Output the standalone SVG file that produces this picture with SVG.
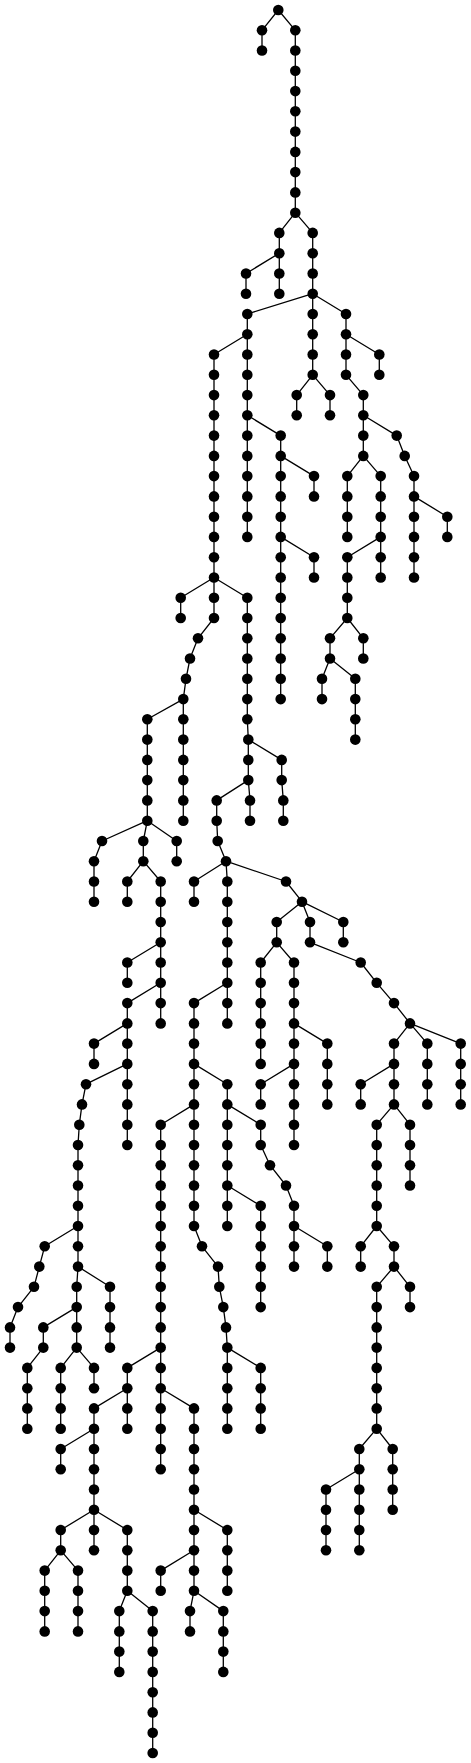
<svg xmlns="http://www.w3.org/2000/svg" width="471" height="1763" viewBox="0 0 471 1763">
<style>
.e path{fill:none;stroke:#000;stroke-width:1.3;stroke-linejoin:round}
.nodes circle{fill:#000}
</style>
<rect width="471" height="1763" fill="#fff"/>
<g id="connectors" class="e">
<path d="M278.3,10 L262,30.3 L262,50.5"/>
<path d="M278.3,10 L295.3,30.3 L295.3,212.7 L279.3,232.9 L279.3,293.7"/>
<path d="M279.3,253.2 L246,273.5 L246,293.7"/>
<path d="M295.3,212.7 L312.7,232.9 L312.7,374.8 L296.7,395.1 L296.7,415.3"/>
<path d="M312.7,374.8 L330,395.1 L330,415.3"/>
<path d="M312.7,293.7 L247.3,314 L247.3,334.3 L214,354.5 L214,577.5 L180.7,597.7 L180.7,618"/>
<path d="M247.3,334.3 L247.3,536.9"/>
<path d="M247.3,415.3 L280.7,435.6 L280.7,699.1"/>
<path d="M280.7,455.9 L314,476.1 L314,496.4"/>
<path d="M280.7,536.9 L314,557.2 L314,577.5"/>
<path d="M312.7,293.7 L346,314 L346,374.8 L363.3,395.1 L363.3,455.9 L347.3,476.1 L347.3,536.9"/>
<path d="M346,334.3 L379.3,354.5 L379.3,374.8"/>
<path d="M363.3,455.9 L380.7,476.1 L380.7,577.5"/>
<path d="M380.7,536.9 L347.3,557.2 L347.3,618 L330,638.3 L330,658.5 L322,678.8 L322,699.1"/>
<path d="M330,658.5 L355.3,678.8 L355.3,739.6"/>
<path d="M347.3,618 L363.3,638.3 L363.3,658.5"/>
<path d="M363.3,415.3 L396.7,435.6 L404.7,455.9 L414,476.1 L414,577.5"/>
<path d="M414,496.4 L447.3,516.7 L447.3,536.9"/>
<path d="M214,577.5 L214,618 L198,638.3 L190,658.5 L186,678.8 L183.3,699.1 L183.3,820.7"/>
<path d="M214,577.5 L247.3,597.7 L247.3,719.3 L248.3,739.6 L248.3,780.1 L250,800.4 L250,820.7"/>
<path d="M248.3,780.1 L216.7,800.4 L216.7,820.7 L217.7,841 L226,861.2 L227.3,881.5 L227.3,1023.4"/>
<path d="M248.3,739.6 L281.7,759.9 L281.7,780.1 L283.3,800.4 L283.3,820.7"/>
<path d="M183.3,699.1 L147.3,719.3 L147.3,820.7 L102,841 L94,861.2 L94,901.7"/>
<path d="M147.3,820.7 L143.3,841 L143.3,861.2 L127.3,881.5 L127.3,901.7"/>
<path d="M147.3,820.7 L176.7,841 L176.7,861.2"/>
<path d="M143.3,861.2 L160.7,881.5 L160.7,1023.4"/>
<path d="M160.7,942.3 L127.3,962.5 L127.3,982.8"/>
<path d="M160.7,982.8 L127.3,1003.1 L127.3,1145"/>
<path d="M127.3,1023.4 L94,1043.6 L94,1063.9"/>
<path d="M127.3,1063.9 L86,1084.2 L82,1104.4 L79.3,1124.7 L78,1145 L78,1266.6 L76.7,1286.8 L76.7,1347.6 L60.7,1367.9 L60.7,1428.7"/>
<path d="M78,1226 L44.7,1246.3 L39.3,1266.6 L34,1286.8 L18,1307.1 L10,1327.4 L10,1347.6"/>
<path d="M78,1266.6 L110,1286.8 L110,1347.6"/>
<path d="M76.7,1307.1 L43.3,1327.4 L43.3,1347.6 L27.3,1367.9 L27.3,1428.7"/>
<path d="M76.7,1347.6 L94,1367.9 L94,1388.2"/>
<path d="M226,861.2 L194,881.5 L194,901.7"/>
<path d="M226,861.2 L286,881.5 L302,901.7 L276.7,922 L276.7,942.3 L260.7,962.5 L260.7,1063.9"/>
<path d="M302,901.7 L310,922 L310,942.3 L360.7,962.5 L376.7,982.8 L394,1003.1 L410,1023.4 L394,1043.6 L394,1104.4 L376.7,1124.7 L376.7,1226 L394,1246.3 L394,1266.6 L376.7,1286.8 L376.7,1428.7 L359.3,1449 L359.3,1550.3"/>
<path d="M302,901.7 L343.3,922 L343.3,942.3"/>
<path d="M276.7,942.3 L294,962.5 L294,1145"/>
<path d="M294,1023.4 L327.3,1043.6 L327.3,1104.4"/>
<path d="M294,1063.9 L260.7,1084.2 L260.7,1104.4"/>
<path d="M410,1023.4 L427.3,1043.6 L427.3,1104.4"/>
<path d="M410,1023.4 L460.7,1043.6 L460.7,1104.4"/>
<path d="M394,1063.9 L360.7,1084.2 L360.7,1104.4"/>
<path d="M394,1104.4 L410,1124.7 L410,1185.5"/>
<path d="M376.7,1226 L360.7,1246.3 L360.7,1266.6"/>
<path d="M394,1266.6 L410,1286.8 L410,1307.1"/>
<path d="M376.7,1428.7 L392.7,1449 L392.7,1509.8"/>
<path d="M359.3,1469.2 L326,1489.5 L326,1550.3"/>
<path d="M227.3,982.8 L194,1003.1 L194,1226 L202,1246.3 L218,1266.6 L219.3,1286.8 L223.3,1307.1 L226,1327.4 L227.3,1347.6 L227.3,1428.7"/>
<path d="M194,1063.9 L227.3,1084.2 L227.3,1226"/>
<path d="M227.3,1185.5 L260.7,1205.8 L260.7,1307.1"/>
<path d="M227.3,1104.4 L260.7,1124.7 L260.7,1145 L270,1165.2 L286,1185.5 L294,1205.8 L294,1266.6"/>
<path d="M294,1226 L327.3,1246.3 L327.3,1266.6"/>
<path d="M194,1104.4 L160.7,1124.7 L160.7,1469.2"/>
<path d="M227.3,1347.6 L260.7,1367.9 L260.7,1428.7"/>
<path d="M160.7,1347.6 L127.3,1367.9 L127.3,1428.7"/>
<path d="M127.3,1388.2 L94,1408.4 L94,1550.3"/>
<path d="M94,1428.7 L60.7,1449 L60.7,1469.2"/>
<path d="M94,1509.8 L60.7,1530 L60.7,1550.3 L44.7,1570.6 L44.7,1631.4"/>
<path d="M60.7,1550.3 L78,1570.6 L78,1631.4"/>
<path d="M94,1509.8 L127.3,1530 L127.3,1590.8 L119.3,1611.1 L119.3,1671.9"/>
<path d="M127.3,1590.8 L152.7,1611.1 L152.7,1753"/>
<path d="M160.7,1388.2 L194,1408.4 L194,1590.8 L190,1611.1 L190,1631.4"/>
<path d="M194,1509.8 L227.3,1530 L227.3,1590.8"/>
<path d="M194,1550.3 L160.7,1570.6 L160.7,1590.8"/>
<path d="M194,1590.8 L223.3,1611.1 L223.3,1671.9"/>
</g>
<g id="nodes" class="nodes">
<g id="n0"><circle cx="278.3" cy="10" r="5.3"/></g>
<g id="n1"><circle cx="262" cy="30.3" r="5.3"/></g>
<g id="n2"><circle cx="262" cy="50.5" r="5.3"/></g>
<g id="n3"><circle cx="295.3" cy="30.3" r="5.3"/></g>
<g id="n4"><circle cx="295.3" cy="50.5" r="5.3"/></g>
<g id="n5"><circle cx="295.3" cy="70.8" r="5.3"/></g>
<g id="n6"><circle cx="295.3" cy="91.1" r="5.3"/></g>
<g id="n7"><circle cx="295.3" cy="111.3" r="5.3"/></g>
<g id="n8"><circle cx="295.3" cy="131.6" r="5.3"/></g>
<g id="n9"><circle cx="295.3" cy="151.9" r="5.3"/></g>
<g id="n10"><circle cx="295.3" cy="172.1" r="5.3"/></g>
<g id="n11"><circle cx="295.3" cy="192.4" r="5.3"/></g>
<g id="n12"><circle cx="295.3" cy="212.7" r="5.3"/></g>
<g id="n13"><circle cx="279.3" cy="232.9" r="5.3"/></g>
<g id="n14"><circle cx="279.3" cy="253.2" r="5.3"/></g>
<g id="n15"><circle cx="279.3" cy="273.5" r="5.3"/></g>
<g id="n16"><circle cx="279.3" cy="293.7" r="5.3"/></g>
<g id="n17"><circle cx="246" cy="273.5" r="5.3"/></g>
<g id="n18"><circle cx="246" cy="293.7" r="5.3"/></g>
<g id="n19"><circle cx="312.7" cy="232.9" r="5.3"/></g>
<g id="n20"><circle cx="312.7" cy="253.2" r="5.3"/></g>
<g id="n21"><circle cx="312.7" cy="273.5" r="5.3"/></g>
<g id="n22"><circle cx="312.7" cy="293.7" r="5.3"/></g>
<g id="n23"><circle cx="312.7" cy="314" r="5.3"/></g>
<g id="n24"><circle cx="312.7" cy="334.3" r="5.3"/></g>
<g id="n25"><circle cx="312.7" cy="354.5" r="5.3"/></g>
<g id="n26"><circle cx="312.7" cy="374.8" r="5.3"/></g>
<g id="n27"><circle cx="296.7" cy="395.1" r="5.3"/></g>
<g id="n28"><circle cx="296.7" cy="415.3" r="5.3"/></g>
<g id="n29"><circle cx="330" cy="395.1" r="5.3"/></g>
<g id="n30"><circle cx="330" cy="415.3" r="5.3"/></g>
<g id="n31"><circle cx="247.3" cy="314" r="5.3"/></g>
<g id="n32"><circle cx="247.3" cy="334.3" r="5.3"/></g>
<g id="n33"><circle cx="214" cy="354.5" r="5.3"/></g>
<g id="n34"><circle cx="214" cy="374.8" r="5.3"/></g>
<g id="n35"><circle cx="214" cy="395.1" r="5.3"/></g>
<g id="n36"><circle cx="214" cy="415.3" r="5.3"/></g>
<g id="n37"><circle cx="214" cy="435.6" r="5.3"/></g>
<g id="n38"><circle cx="214" cy="455.9" r="5.3"/></g>
<g id="n39"><circle cx="214" cy="476.1" r="5.3"/></g>
<g id="n40"><circle cx="214" cy="496.4" r="5.3"/></g>
<g id="n41"><circle cx="214" cy="516.7" r="5.3"/></g>
<g id="n42"><circle cx="214" cy="536.9" r="5.3"/></g>
<g id="n43"><circle cx="214" cy="557.2" r="5.3"/></g>
<g id="n44"><circle cx="214" cy="577.5" r="5.3"/></g>
<g id="n45"><circle cx="180.7" cy="597.7" r="5.3"/></g>
<g id="n46"><circle cx="180.7" cy="618" r="5.3"/></g>
<g id="n47"><circle cx="247.3" cy="354.5" r="5.3"/></g>
<g id="n48"><circle cx="247.3" cy="374.8" r="5.3"/></g>
<g id="n49"><circle cx="247.3" cy="395.1" r="5.3"/></g>
<g id="n50"><circle cx="247.3" cy="415.3" r="5.3"/></g>
<g id="n51"><circle cx="247.3" cy="435.6" r="5.3"/></g>
<g id="n52"><circle cx="247.3" cy="455.9" r="5.3"/></g>
<g id="n53"><circle cx="247.3" cy="476.1" r="5.3"/></g>
<g id="n54"><circle cx="247.3" cy="496.4" r="5.3"/></g>
<g id="n55"><circle cx="247.3" cy="516.7" r="5.3"/></g>
<g id="n56"><circle cx="247.3" cy="536.9" r="5.3"/></g>
<g id="n57"><circle cx="280.7" cy="435.6" r="5.3"/></g>
<g id="n58"><circle cx="280.7" cy="455.9" r="5.3"/></g>
<g id="n59"><circle cx="280.7" cy="476.1" r="5.3"/></g>
<g id="n60"><circle cx="280.7" cy="496.4" r="5.3"/></g>
<g id="n61"><circle cx="280.7" cy="516.7" r="5.3"/></g>
<g id="n62"><circle cx="280.7" cy="536.9" r="5.3"/></g>
<g id="n63"><circle cx="280.7" cy="557.2" r="5.3"/></g>
<g id="n64"><circle cx="280.7" cy="577.5" r="5.3"/></g>
<g id="n65"><circle cx="280.7" cy="597.7" r="5.3"/></g>
<g id="n66"><circle cx="280.7" cy="618" r="5.3"/></g>
<g id="n67"><circle cx="280.7" cy="638.3" r="5.3"/></g>
<g id="n68"><circle cx="280.7" cy="658.5" r="5.3"/></g>
<g id="n69"><circle cx="280.7" cy="678.8" r="5.3"/></g>
<g id="n70"><circle cx="280.7" cy="699.1" r="5.3"/></g>
<g id="n71"><circle cx="314" cy="476.1" r="5.3"/></g>
<g id="n72"><circle cx="314" cy="496.4" r="5.3"/></g>
<g id="n73"><circle cx="314" cy="557.2" r="5.3"/></g>
<g id="n74"><circle cx="314" cy="577.5" r="5.3"/></g>
<g id="n75"><circle cx="346" cy="314" r="5.3"/></g>
<g id="n76"><circle cx="346" cy="334.3" r="5.3"/></g>
<g id="n77"><circle cx="346" cy="354.5" r="5.3"/></g>
<g id="n78"><circle cx="346" cy="374.8" r="5.3"/></g>
<g id="n79"><circle cx="363.3" cy="395.1" r="5.3"/></g>
<g id="n80"><circle cx="363.3" cy="415.3" r="5.3"/></g>
<g id="n81"><circle cx="363.3" cy="435.6" r="5.3"/></g>
<g id="n82"><circle cx="363.3" cy="455.9" r="5.3"/></g>
<g id="n83"><circle cx="347.3" cy="476.1" r="5.3"/></g>
<g id="n84"><circle cx="347.3" cy="496.4" r="5.3"/></g>
<g id="n85"><circle cx="347.3" cy="516.7" r="5.3"/></g>
<g id="n86"><circle cx="347.3" cy="536.9" r="5.3"/></g>
<g id="n87"><circle cx="379.3" cy="354.5" r="5.3"/></g>
<g id="n88"><circle cx="379.3" cy="374.8" r="5.3"/></g>
<g id="n89"><circle cx="380.7" cy="476.1" r="5.3"/></g>
<g id="n90"><circle cx="380.7" cy="496.4" r="5.3"/></g>
<g id="n91"><circle cx="380.7" cy="516.7" r="5.3"/></g>
<g id="n92"><circle cx="380.7" cy="536.9" r="5.3"/></g>
<g id="n93"><circle cx="380.7" cy="557.2" r="5.3"/></g>
<g id="n94"><circle cx="380.7" cy="577.5" r="5.3"/></g>
<g id="n95"><circle cx="347.3" cy="557.2" r="5.3"/></g>
<g id="n96"><circle cx="347.3" cy="577.5" r="5.3"/></g>
<g id="n97"><circle cx="347.3" cy="597.7" r="5.3"/></g>
<g id="n98"><circle cx="347.3" cy="618" r="5.3"/></g>
<g id="n99"><circle cx="330" cy="638.3" r="5.3"/></g>
<g id="n100"><circle cx="330" cy="658.5" r="5.3"/></g>
<g id="n101"><circle cx="322" cy="678.8" r="5.3"/></g>
<g id="n102"><circle cx="322" cy="699.1" r="5.3"/></g>
<g id="n103"><circle cx="355.3" cy="678.8" r="5.3"/></g>
<g id="n104"><circle cx="355.3" cy="699.1" r="5.3"/></g>
<g id="n105"><circle cx="355.3" cy="719.3" r="5.3"/></g>
<g id="n106"><circle cx="355.3" cy="739.6" r="5.3"/></g>
<g id="n107"><circle cx="363.3" cy="638.3" r="5.3"/></g>
<g id="n108"><circle cx="363.3" cy="658.5" r="5.3"/></g>
<g id="n109"><circle cx="396.7" cy="435.6" r="5.3"/></g>
<g id="n110"><circle cx="404.7" cy="455.9" r="5.3"/></g>
<g id="n111"><circle cx="414" cy="476.1" r="5.3"/></g>
<g id="n112"><circle cx="414" cy="496.4" r="5.3"/></g>
<g id="n113"><circle cx="414" cy="516.7" r="5.3"/></g>
<g id="n114"><circle cx="414" cy="536.9" r="5.3"/></g>
<g id="n115"><circle cx="414" cy="557.2" r="5.3"/></g>
<g id="n116"><circle cx="414" cy="577.5" r="5.3"/></g>
<g id="n117"><circle cx="447.3" cy="516.7" r="5.3"/></g>
<g id="n118"><circle cx="447.3" cy="536.9" r="5.3"/></g>
<g id="n119"><circle cx="214" cy="597.7" r="5.3"/></g>
<g id="n120"><circle cx="214" cy="618" r="5.3"/></g>
<g id="n121"><circle cx="198" cy="638.3" r="5.3"/></g>
<g id="n122"><circle cx="190" cy="658.5" r="5.3"/></g>
<g id="n123"><circle cx="186" cy="678.8" r="5.3"/></g>
<g id="n124"><circle cx="183.3" cy="699.1" r="5.3"/></g>
<g id="n125"><circle cx="183.3" cy="719.3" r="5.3"/></g>
<g id="n126"><circle cx="183.3" cy="739.6" r="5.3"/></g>
<g id="n127"><circle cx="183.3" cy="759.9" r="5.3"/></g>
<g id="n128"><circle cx="183.3" cy="780.1" r="5.3"/></g>
<g id="n129"><circle cx="183.3" cy="800.4" r="5.3"/></g>
<g id="n130"><circle cx="183.3" cy="820.7" r="5.3"/></g>
<g id="n131"><circle cx="247.3" cy="597.7" r="5.3"/></g>
<g id="n132"><circle cx="247.3" cy="618" r="5.3"/></g>
<g id="n133"><circle cx="247.3" cy="638.3" r="5.3"/></g>
<g id="n134"><circle cx="247.3" cy="658.5" r="5.3"/></g>
<g id="n135"><circle cx="247.3" cy="678.8" r="5.3"/></g>
<g id="n136"><circle cx="247.3" cy="699.1" r="5.3"/></g>
<g id="n137"><circle cx="247.3" cy="719.3" r="5.3"/></g>
<g id="n138"><circle cx="248.3" cy="739.6" r="5.3"/></g>
<g id="n139"><circle cx="248.3" cy="759.9" r="5.3"/></g>
<g id="n140"><circle cx="248.3" cy="780.1" r="5.3"/></g>
<g id="n141"><circle cx="250" cy="800.4" r="5.3"/></g>
<g id="n142"><circle cx="250" cy="820.7" r="5.3"/></g>
<g id="n143"><circle cx="216.7" cy="800.4" r="5.3"/></g>
<g id="n144"><circle cx="216.7" cy="820.7" r="5.3"/></g>
<g id="n145"><circle cx="217.7" cy="841" r="5.3"/></g>
<g id="n146"><circle cx="226" cy="861.2" r="5.3"/></g>
<g id="n147"><circle cx="227.3" cy="881.5" r="5.3"/></g>
<g id="n148"><circle cx="227.3" cy="901.7" r="5.3"/></g>
<g id="n149"><circle cx="227.3" cy="922" r="5.3"/></g>
<g id="n150"><circle cx="227.3" cy="942.3" r="5.3"/></g>
<g id="n151"><circle cx="227.3" cy="962.5" r="5.3"/></g>
<g id="n152"><circle cx="227.3" cy="982.8" r="5.3"/></g>
<g id="n153"><circle cx="227.3" cy="1003.1" r="5.3"/></g>
<g id="n154"><circle cx="227.3" cy="1023.4" r="5.3"/></g>
<g id="n155"><circle cx="281.7" cy="759.9" r="5.3"/></g>
<g id="n156"><circle cx="281.7" cy="780.1" r="5.3"/></g>
<g id="n157"><circle cx="283.3" cy="800.4" r="5.3"/></g>
<g id="n158"><circle cx="283.3" cy="820.7" r="5.3"/></g>
<g id="n159"><circle cx="147.3" cy="719.3" r="5.3"/></g>
<g id="n160"><circle cx="147.3" cy="739.6" r="5.3"/></g>
<g id="n161"><circle cx="147.3" cy="759.9" r="5.3"/></g>
<g id="n162"><circle cx="147.3" cy="780.1" r="5.3"/></g>
<g id="n163"><circle cx="147.3" cy="800.4" r="5.3"/></g>
<g id="n164"><circle cx="147.3" cy="820.7" r="5.3"/></g>
<g id="n165"><circle cx="102" cy="841" r="5.3"/></g>
<g id="n166"><circle cx="94" cy="861.2" r="5.3"/></g>
<g id="n167"><circle cx="94" cy="881.5" r="5.3"/></g>
<g id="n168"><circle cx="94" cy="901.7" r="5.3"/></g>
<g id="n169"><circle cx="143.3" cy="841" r="5.3"/></g>
<g id="n170"><circle cx="143.3" cy="861.2" r="5.3"/></g>
<g id="n171"><circle cx="127.3" cy="881.5" r="5.3"/></g>
<g id="n172"><circle cx="127.3" cy="901.7" r="5.3"/></g>
<g id="n173"><circle cx="176.7" cy="841" r="5.3"/></g>
<g id="n174"><circle cx="176.7" cy="861.2" r="5.3"/></g>
<g id="n175"><circle cx="160.7" cy="881.5" r="5.3"/></g>
<g id="n176"><circle cx="160.7" cy="901.7" r="5.3"/></g>
<g id="n177"><circle cx="160.7" cy="922" r="5.3"/></g>
<g id="n178"><circle cx="160.7" cy="942.3" r="5.3"/></g>
<g id="n179"><circle cx="160.7" cy="962.5" r="5.3"/></g>
<g id="n180"><circle cx="160.7" cy="982.8" r="5.3"/></g>
<g id="n181"><circle cx="160.7" cy="1003.1" r="5.3"/></g>
<g id="n182"><circle cx="160.7" cy="1023.4" r="5.3"/></g>
<g id="n183"><circle cx="127.3" cy="962.5" r="5.3"/></g>
<g id="n184"><circle cx="127.3" cy="982.8" r="5.3"/></g>
<g id="n185"><circle cx="127.3" cy="1003.1" r="5.3"/></g>
<g id="n186"><circle cx="127.3" cy="1023.4" r="5.3"/></g>
<g id="n187"><circle cx="127.3" cy="1043.6" r="5.3"/></g>
<g id="n188"><circle cx="127.3" cy="1063.9" r="5.3"/></g>
<g id="n189"><circle cx="127.3" cy="1084.2" r="5.3"/></g>
<g id="n190"><circle cx="127.3" cy="1104.4" r="5.3"/></g>
<g id="n191"><circle cx="127.3" cy="1124.7" r="5.3"/></g>
<g id="n192"><circle cx="127.3" cy="1145" r="5.3"/></g>
<g id="n193"><circle cx="94" cy="1043.6" r="5.3"/></g>
<g id="n194"><circle cx="94" cy="1063.9" r="5.3"/></g>
<g id="n195"><circle cx="86" cy="1084.2" r="5.3"/></g>
<g id="n196"><circle cx="82" cy="1104.4" r="5.3"/></g>
<g id="n197"><circle cx="79.3" cy="1124.7" r="5.3"/></g>
<g id="n198"><circle cx="78" cy="1145" r="5.3"/></g>
<g id="n199"><circle cx="78" cy="1165.2" r="5.3"/></g>
<g id="n200"><circle cx="78" cy="1185.5" r="5.3"/></g>
<g id="n201"><circle cx="78" cy="1205.8" r="5.3"/></g>
<g id="n202"><circle cx="78" cy="1226" r="5.3"/></g>
<g id="n203"><circle cx="78" cy="1246.3" r="5.3"/></g>
<g id="n204"><circle cx="78" cy="1266.6" r="5.3"/></g>
<g id="n205"><circle cx="76.7" cy="1286.8" r="5.3"/></g>
<g id="n206"><circle cx="76.7" cy="1307.1" r="5.3"/></g>
<g id="n207"><circle cx="76.7" cy="1327.4" r="5.3"/></g>
<g id="n208"><circle cx="76.7" cy="1347.6" r="5.3"/></g>
<g id="n209"><circle cx="60.7" cy="1367.9" r="5.3"/></g>
<g id="n210"><circle cx="60.7" cy="1388.2" r="5.3"/></g>
<g id="n211"><circle cx="60.7" cy="1408.4" r="5.3"/></g>
<g id="n212"><circle cx="60.7" cy="1428.7" r="5.3"/></g>
<g id="n213"><circle cx="44.7" cy="1246.3" r="5.3"/></g>
<g id="n214"><circle cx="39.3" cy="1266.6" r="5.3"/></g>
<g id="n215"><circle cx="34" cy="1286.8" r="5.3"/></g>
<g id="n216"><circle cx="18" cy="1307.1" r="5.3"/></g>
<g id="n217"><circle cx="10" cy="1327.4" r="5.3"/></g>
<g id="n218"><circle cx="10" cy="1347.6" r="5.3"/></g>
<g id="n219"><circle cx="110" cy="1286.8" r="5.3"/></g>
<g id="n220"><circle cx="110" cy="1307.1" r="5.3"/></g>
<g id="n221"><circle cx="110" cy="1327.4" r="5.3"/></g>
<g id="n222"><circle cx="110" cy="1347.6" r="5.3"/></g>
<g id="n223"><circle cx="43.3" cy="1327.4" r="5.3"/></g>
<g id="n224"><circle cx="43.3" cy="1347.6" r="5.3"/></g>
<g id="n225"><circle cx="27.3" cy="1367.9" r="5.3"/></g>
<g id="n226"><circle cx="27.3" cy="1388.2" r="5.3"/></g>
<g id="n227"><circle cx="27.3" cy="1408.4" r="5.3"/></g>
<g id="n228"><circle cx="27.3" cy="1428.7" r="5.3"/></g>
<g id="n229"><circle cx="94" cy="1367.9" r="5.3"/></g>
<g id="n230"><circle cx="94" cy="1388.2" r="5.3"/></g>
<g id="n231"><circle cx="194" cy="881.5" r="5.3"/></g>
<g id="n232"><circle cx="194" cy="901.7" r="5.3"/></g>
<g id="n233"><circle cx="286" cy="881.5" r="5.3"/></g>
<g id="n234"><circle cx="302" cy="901.7" r="5.3"/></g>
<g id="n235"><circle cx="276.7" cy="922" r="5.3"/></g>
<g id="n236"><circle cx="276.7" cy="942.3" r="5.3"/></g>
<g id="n237"><circle cx="260.7" cy="962.5" r="5.3"/></g>
<g id="n238"><circle cx="260.7" cy="982.8" r="5.3"/></g>
<g id="n239"><circle cx="260.7" cy="1003.1" r="5.3"/></g>
<g id="n240"><circle cx="260.7" cy="1023.4" r="5.3"/></g>
<g id="n241"><circle cx="260.7" cy="1043.6" r="5.3"/></g>
<g id="n242"><circle cx="260.7" cy="1063.9" r="5.3"/></g>
<g id="n243"><circle cx="310" cy="922" r="5.3"/></g>
<g id="n244"><circle cx="310" cy="942.3" r="5.3"/></g>
<g id="n245"><circle cx="360.7" cy="962.5" r="5.3"/></g>
<g id="n246"><circle cx="376.7" cy="982.8" r="5.3"/></g>
<g id="n247"><circle cx="394" cy="1003.1" r="5.3"/></g>
<g id="n248"><circle cx="410" cy="1023.4" r="5.3"/></g>
<g id="n249"><circle cx="394" cy="1043.6" r="5.3"/></g>
<g id="n250"><circle cx="394" cy="1063.9" r="5.3"/></g>
<g id="n251"><circle cx="394" cy="1084.2" r="5.3"/></g>
<g id="n252"><circle cx="394" cy="1104.4" r="5.3"/></g>
<g id="n253"><circle cx="376.7" cy="1124.7" r="5.3"/></g>
<g id="n254"><circle cx="376.7" cy="1145" r="5.3"/></g>
<g id="n255"><circle cx="376.7" cy="1165.2" r="5.3"/></g>
<g id="n256"><circle cx="376.7" cy="1185.5" r="5.3"/></g>
<g id="n257"><circle cx="376.7" cy="1205.8" r="5.3"/></g>
<g id="n258"><circle cx="376.7" cy="1226" r="5.3"/></g>
<g id="n259"><circle cx="394" cy="1246.3" r="5.3"/></g>
<g id="n260"><circle cx="394" cy="1266.6" r="5.3"/></g>
<g id="n261"><circle cx="376.7" cy="1286.8" r="5.3"/></g>
<g id="n262"><circle cx="376.7" cy="1307.1" r="5.3"/></g>
<g id="n263"><circle cx="376.7" cy="1327.4" r="5.3"/></g>
<g id="n264"><circle cx="376.7" cy="1347.6" r="5.3"/></g>
<g id="n265"><circle cx="376.7" cy="1367.9" r="5.3"/></g>
<g id="n266"><circle cx="376.7" cy="1388.2" r="5.3"/></g>
<g id="n267"><circle cx="376.7" cy="1408.4" r="5.3"/></g>
<g id="n268"><circle cx="376.7" cy="1428.7" r="5.3"/></g>
<g id="n269"><circle cx="359.3" cy="1449" r="5.3"/></g>
<g id="n270"><circle cx="359.3" cy="1469.2" r="5.3"/></g>
<g id="n271"><circle cx="359.3" cy="1489.5" r="5.3"/></g>
<g id="n272"><circle cx="359.3" cy="1509.8" r="5.3"/></g>
<g id="n273"><circle cx="359.3" cy="1530" r="5.3"/></g>
<g id="n274"><circle cx="359.3" cy="1550.3" r="5.3"/></g>
<g id="n275"><circle cx="343.3" cy="922" r="5.3"/></g>
<g id="n276"><circle cx="343.3" cy="942.3" r="5.3"/></g>
<g id="n277"><circle cx="294" cy="962.5" r="5.3"/></g>
<g id="n278"><circle cx="294" cy="982.8" r="5.3"/></g>
<g id="n279"><circle cx="294" cy="1003.1" r="5.3"/></g>
<g id="n280"><circle cx="294" cy="1023.4" r="5.3"/></g>
<g id="n281"><circle cx="294" cy="1043.6" r="5.3"/></g>
<g id="n282"><circle cx="294" cy="1063.9" r="5.3"/></g>
<g id="n283"><circle cx="294" cy="1084.2" r="5.3"/></g>
<g id="n284"><circle cx="294" cy="1104.4" r="5.3"/></g>
<g id="n285"><circle cx="294" cy="1124.7" r="5.3"/></g>
<g id="n286"><circle cx="294" cy="1145" r="5.3"/></g>
<g id="n287"><circle cx="327.3" cy="1043.6" r="5.3"/></g>
<g id="n288"><circle cx="327.3" cy="1063.9" r="5.3"/></g>
<g id="n289"><circle cx="327.3" cy="1084.2" r="5.3"/></g>
<g id="n290"><circle cx="327.3" cy="1104.4" r="5.3"/></g>
<g id="n291"><circle cx="260.7" cy="1084.2" r="5.3"/></g>
<g id="n292"><circle cx="260.7" cy="1104.4" r="5.3"/></g>
<g id="n293"><circle cx="427.3" cy="1043.6" r="5.3"/></g>
<g id="n294"><circle cx="427.3" cy="1063.9" r="5.3"/></g>
<g id="n295"><circle cx="427.3" cy="1084.2" r="5.3"/></g>
<g id="n296"><circle cx="427.3" cy="1104.4" r="5.3"/></g>
<g id="n297"><circle cx="460.7" cy="1043.6" r="5.3"/></g>
<g id="n298"><circle cx="460.7" cy="1063.9" r="5.3"/></g>
<g id="n299"><circle cx="460.7" cy="1084.2" r="5.3"/></g>
<g id="n300"><circle cx="460.7" cy="1104.4" r="5.3"/></g>
<g id="n301"><circle cx="360.7" cy="1084.2" r="5.3"/></g>
<g id="n302"><circle cx="360.7" cy="1104.4" r="5.3"/></g>
<g id="n303"><circle cx="410" cy="1124.7" r="5.3"/></g>
<g id="n304"><circle cx="410" cy="1145" r="5.3"/></g>
<g id="n305"><circle cx="410" cy="1165.2" r="5.3"/></g>
<g id="n306"><circle cx="410" cy="1185.5" r="5.3"/></g>
<g id="n307"><circle cx="360.7" cy="1246.3" r="5.3"/></g>
<g id="n308"><circle cx="360.7" cy="1266.6" r="5.3"/></g>
<g id="n309"><circle cx="410" cy="1286.8" r="5.3"/></g>
<g id="n310"><circle cx="410" cy="1307.1" r="5.3"/></g>
<g id="n311"><circle cx="392.7" cy="1449" r="5.3"/></g>
<g id="n312"><circle cx="392.7" cy="1469.2" r="5.3"/></g>
<g id="n313"><circle cx="392.7" cy="1489.5" r="5.3"/></g>
<g id="n314"><circle cx="392.7" cy="1509.8" r="5.3"/></g>
<g id="n315"><circle cx="326" cy="1489.5" r="5.3"/></g>
<g id="n316"><circle cx="326" cy="1509.8" r="5.3"/></g>
<g id="n317"><circle cx="326" cy="1530" r="5.3"/></g>
<g id="n318"><circle cx="326" cy="1550.3" r="5.3"/></g>
<g id="n319"><circle cx="194" cy="1003.1" r="5.3"/></g>
<g id="n320"><circle cx="194" cy="1023.4" r="5.3"/></g>
<g id="n321"><circle cx="194" cy="1043.6" r="5.3"/></g>
<g id="n322"><circle cx="194" cy="1063.9" r="5.3"/></g>
<g id="n323"><circle cx="194" cy="1084.2" r="5.3"/></g>
<g id="n324"><circle cx="194" cy="1104.4" r="5.3"/></g>
<g id="n325"><circle cx="194" cy="1124.7" r="5.3"/></g>
<g id="n326"><circle cx="194" cy="1145" r="5.3"/></g>
<g id="n327"><circle cx="194" cy="1165.2" r="5.3"/></g>
<g id="n328"><circle cx="194" cy="1185.5" r="5.3"/></g>
<g id="n329"><circle cx="194" cy="1205.8" r="5.3"/></g>
<g id="n330"><circle cx="194" cy="1226" r="5.3"/></g>
<g id="n331"><circle cx="202" cy="1246.3" r="5.3"/></g>
<g id="n332"><circle cx="218" cy="1266.6" r="5.3"/></g>
<g id="n333"><circle cx="219.3" cy="1286.8" r="5.3"/></g>
<g id="n334"><circle cx="223.3" cy="1307.1" r="5.3"/></g>
<g id="n335"><circle cx="226" cy="1327.4" r="5.3"/></g>
<g id="n336"><circle cx="227.3" cy="1347.6" r="5.3"/></g>
<g id="n337"><circle cx="227.3" cy="1367.9" r="5.3"/></g>
<g id="n338"><circle cx="227.3" cy="1388.2" r="5.3"/></g>
<g id="n339"><circle cx="227.3" cy="1408.4" r="5.3"/></g>
<g id="n340"><circle cx="227.3" cy="1428.7" r="5.3"/></g>
<g id="n341"><circle cx="227.3" cy="1084.2" r="5.3"/></g>
<g id="n342"><circle cx="227.3" cy="1104.4" r="5.3"/></g>
<g id="n343"><circle cx="227.3" cy="1124.7" r="5.3"/></g>
<g id="n344"><circle cx="227.3" cy="1145" r="5.3"/></g>
<g id="n345"><circle cx="227.3" cy="1165.2" r="5.3"/></g>
<g id="n346"><circle cx="227.3" cy="1185.5" r="5.3"/></g>
<g id="n347"><circle cx="227.3" cy="1205.8" r="5.3"/></g>
<g id="n348"><circle cx="227.3" cy="1226" r="5.3"/></g>
<g id="n349"><circle cx="260.7" cy="1205.8" r="5.3"/></g>
<g id="n350"><circle cx="260.7" cy="1226" r="5.3"/></g>
<g id="n351"><circle cx="260.7" cy="1246.3" r="5.3"/></g>
<g id="n352"><circle cx="260.7" cy="1266.6" r="5.3"/></g>
<g id="n353"><circle cx="260.7" cy="1286.8" r="5.3"/></g>
<g id="n354"><circle cx="260.7" cy="1307.1" r="5.3"/></g>
<g id="n355"><circle cx="260.7" cy="1124.7" r="5.3"/></g>
<g id="n356"><circle cx="260.7" cy="1145" r="5.3"/></g>
<g id="n357"><circle cx="270" cy="1165.2" r="5.3"/></g>
<g id="n358"><circle cx="286" cy="1185.5" r="5.3"/></g>
<g id="n359"><circle cx="294" cy="1205.8" r="5.3"/></g>
<g id="n360"><circle cx="294" cy="1226" r="5.3"/></g>
<g id="n361"><circle cx="294" cy="1246.3" r="5.3"/></g>
<g id="n362"><circle cx="294" cy="1266.6" r="5.3"/></g>
<g id="n363"><circle cx="327.3" cy="1246.3" r="5.3"/></g>
<g id="n364"><circle cx="327.3" cy="1266.6" r="5.3"/></g>
<g id="n365"><circle cx="160.7" cy="1124.7" r="5.3"/></g>
<g id="n366"><circle cx="160.7" cy="1145" r="5.3"/></g>
<g id="n367"><circle cx="160.7" cy="1165.2" r="5.3"/></g>
<g id="n368"><circle cx="160.7" cy="1185.5" r="5.3"/></g>
<g id="n369"><circle cx="160.7" cy="1205.8" r="5.3"/></g>
<g id="n370"><circle cx="160.7" cy="1226" r="5.3"/></g>
<g id="n371"><circle cx="160.7" cy="1246.3" r="5.3"/></g>
<g id="n372"><circle cx="160.7" cy="1266.6" r="5.3"/></g>
<g id="n373"><circle cx="160.7" cy="1286.8" r="5.3"/></g>
<g id="n374"><circle cx="160.7" cy="1307.1" r="5.3"/></g>
<g id="n375"><circle cx="160.7" cy="1327.4" r="5.3"/></g>
<g id="n376"><circle cx="160.7" cy="1347.6" r="5.3"/></g>
<g id="n377"><circle cx="160.7" cy="1367.9" r="5.3"/></g>
<g id="n378"><circle cx="160.7" cy="1388.2" r="5.3"/></g>
<g id="n379"><circle cx="160.7" cy="1408.4" r="5.3"/></g>
<g id="n380"><circle cx="160.7" cy="1428.7" r="5.3"/></g>
<g id="n381"><circle cx="160.7" cy="1449" r="5.3"/></g>
<g id="n382"><circle cx="160.7" cy="1469.2" r="5.3"/></g>
<g id="n383"><circle cx="260.7" cy="1367.9" r="5.3"/></g>
<g id="n384"><circle cx="260.7" cy="1388.2" r="5.3"/></g>
<g id="n385"><circle cx="260.7" cy="1408.4" r="5.3"/></g>
<g id="n386"><circle cx="260.7" cy="1428.7" r="5.3"/></g>
<g id="n387"><circle cx="127.3" cy="1367.9" r="5.3"/></g>
<g id="n388"><circle cx="127.3" cy="1388.2" r="5.3"/></g>
<g id="n389"><circle cx="127.3" cy="1408.4" r="5.3"/></g>
<g id="n390"><circle cx="127.3" cy="1428.7" r="5.3"/></g>
<g id="n391"><circle cx="94" cy="1408.4" r="5.3"/></g>
<g id="n392"><circle cx="94" cy="1428.7" r="5.3"/></g>
<g id="n393"><circle cx="94" cy="1449" r="5.3"/></g>
<g id="n394"><circle cx="94" cy="1469.2" r="5.3"/></g>
<g id="n395"><circle cx="94" cy="1489.5" r="5.3"/></g>
<g id="n396"><circle cx="94" cy="1509.8" r="5.3"/></g>
<g id="n397"><circle cx="94" cy="1530" r="5.3"/></g>
<g id="n398"><circle cx="94" cy="1550.3" r="5.3"/></g>
<g id="n399"><circle cx="60.7" cy="1449" r="5.3"/></g>
<g id="n400"><circle cx="60.7" cy="1469.2" r="5.3"/></g>
<g id="n401"><circle cx="60.7" cy="1530" r="5.3"/></g>
<g id="n402"><circle cx="60.7" cy="1550.3" r="5.3"/></g>
<g id="n403"><circle cx="44.7" cy="1570.6" r="5.3"/></g>
<g id="n404"><circle cx="44.7" cy="1590.8" r="5.3"/></g>
<g id="n405"><circle cx="44.7" cy="1611.1" r="5.3"/></g>
<g id="n406"><circle cx="44.7" cy="1631.4" r="5.3"/></g>
<g id="n407"><circle cx="78" cy="1570.6" r="5.3"/></g>
<g id="n408"><circle cx="78" cy="1590.8" r="5.3"/></g>
<g id="n409"><circle cx="78" cy="1611.1" r="5.3"/></g>
<g id="n410"><circle cx="78" cy="1631.4" r="5.3"/></g>
<g id="n411"><circle cx="127.3" cy="1530" r="5.3"/></g>
<g id="n412"><circle cx="127.3" cy="1550.3" r="5.3"/></g>
<g id="n413"><circle cx="127.3" cy="1570.6" r="5.3"/></g>
<g id="n414"><circle cx="127.3" cy="1590.8" r="5.3"/></g>
<g id="n415"><circle cx="119.3" cy="1611.1" r="5.3"/></g>
<g id="n416"><circle cx="119.3" cy="1631.4" r="5.3"/></g>
<g id="n417"><circle cx="119.3" cy="1651.6" r="5.3"/></g>
<g id="n418"><circle cx="119.3" cy="1671.9" r="5.3"/></g>
<g id="n419"><circle cx="152.7" cy="1611.1" r="5.3"/></g>
<g id="n420"><circle cx="152.7" cy="1631.4" r="5.3"/></g>
<g id="n421"><circle cx="152.7" cy="1651.6" r="5.3"/></g>
<g id="n422"><circle cx="152.7" cy="1671.9" r="5.3"/></g>
<g id="n423"><circle cx="152.7" cy="1692.2" r="5.3"/></g>
<g id="n424"><circle cx="152.7" cy="1712.4" r="5.3"/></g>
<g id="n425"><circle cx="152.7" cy="1732.7" r="5.3"/></g>
<g id="n426"><circle cx="152.7" cy="1753" r="5.3"/></g>
<g id="n427"><circle cx="194" cy="1408.4" r="5.3"/></g>
<g id="n428"><circle cx="194" cy="1428.7" r="5.3"/></g>
<g id="n429"><circle cx="194" cy="1449" r="5.3"/></g>
<g id="n430"><circle cx="194" cy="1469.2" r="5.3"/></g>
<g id="n431"><circle cx="194" cy="1489.5" r="5.3"/></g>
<g id="n432"><circle cx="194" cy="1509.8" r="5.3"/></g>
<g id="n433"><circle cx="194" cy="1530" r="5.3"/></g>
<g id="n434"><circle cx="194" cy="1550.3" r="5.3"/></g>
<g id="n435"><circle cx="194" cy="1570.6" r="5.3"/></g>
<g id="n436"><circle cx="194" cy="1590.8" r="5.3"/></g>
<g id="n437"><circle cx="190" cy="1611.1" r="5.3"/></g>
<g id="n438"><circle cx="190" cy="1631.4" r="5.3"/></g>
<g id="n439"><circle cx="227.3" cy="1530" r="5.3"/></g>
<g id="n440"><circle cx="227.3" cy="1550.3" r="5.3"/></g>
<g id="n441"><circle cx="227.3" cy="1570.6" r="5.3"/></g>
<g id="n442"><circle cx="227.3" cy="1590.8" r="5.3"/></g>
<g id="n443"><circle cx="160.7" cy="1570.6" r="5.3"/></g>
<g id="n444"><circle cx="160.7" cy="1590.8" r="5.3"/></g>
<g id="n445"><circle cx="223.3" cy="1611.1" r="5.3"/></g>
<g id="n446"><circle cx="223.3" cy="1631.4" r="5.3"/></g>
<g id="n447"><circle cx="223.3" cy="1651.6" r="5.3"/></g>
<g id="n448"><circle cx="223.3" cy="1671.9" r="5.3"/></g>
</g>
</svg>
